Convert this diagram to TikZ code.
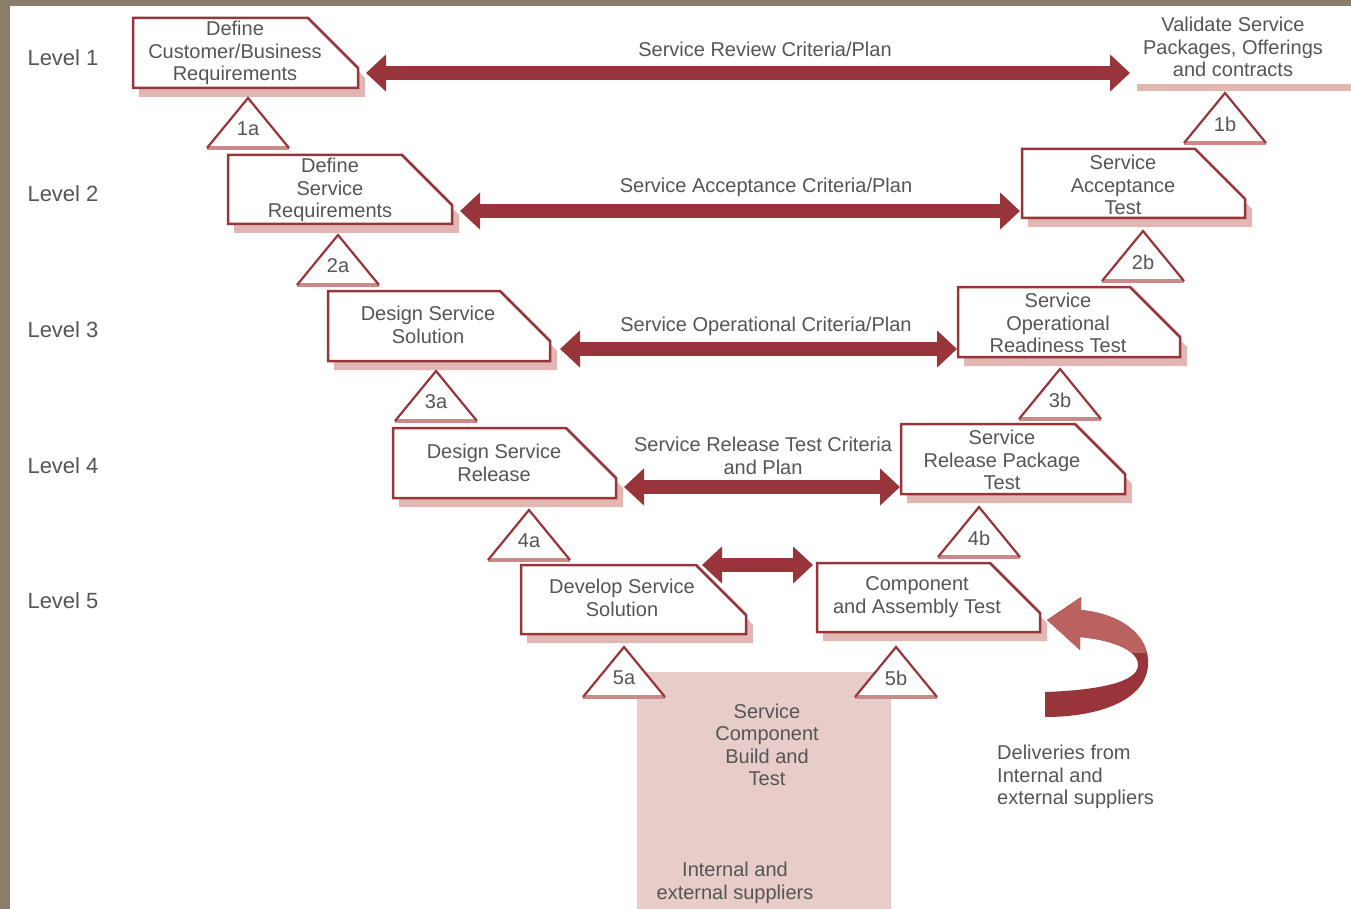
\documentclass[tikz,border=0pt]{standalone}
\usepackage{fontspec}
\setmainfont{Liberation Sans}
\usepackage{tikz}
\usetikzlibrary{calc,arrows.meta}

\definecolor{vred}{HTML}{98353B}
\definecolor{vlight}{HTML}{B9625F}
\definecolor{vpink}{HTML}{E2B6B3}
\definecolor{vbase}{HTML}{C98A89}
\definecolor{vblock}{HTML}{E8CCC9}
\definecolor{vframe}{HTML}{8B7D6A}
\definecolor{txtgray}{HTML}{555555}

\tikzset{
  lvl/.style={text=txtgray,font=\fontsize{22}{24}\selectfont,inner sep=0},
  stagetext/.style={text=txtgray,align=center,font=\fontsize{20}{22.5}\selectfont,inner sep=0},
  stagearea/.style={inner sep=0,outer sep=0},
  stageline/.style={draw=vred,line width=2.5pt,fill=white},
  stageshade/.style={fill=vpink},
  tri/.style={draw=vred,line width=2.2pt},
  tribase/.style={draw=vbase,line width=4.5pt},
  tritext/.style={text=txtgray,font=\fontsize{20}{22}\selectfont,inner sep=0},
  bigarrow/.style={draw=vred,line width=14pt,{Triangle[width=36pt,length=20pt]}-{Triangle[width=36pt,length=20pt]}}
}

% name, left, top, right, bottom
\newcommand{\vstage}[5]{%
  \fill[stageshade] ({#2+6},{#3+9}) -- ({#4-44},{#3+9}) -- ({#4+7},{#3+60}) -- ({#4+7},{#5+9}) -- ({#2+6},{#5+9}) -- cycle;
  \draw[stageline] (#2,#3) -- ({#4-50},#3) -- (#4,{#3+50}) -- (#4,#5) -- (#2,#5) -- cycle;
  \node[stagearea,minimum width={(#4-#2)*1pt},minimum height={(#5-#3)*1pt}] (#1) at ({(#2+#4)/2},{(#3+#5)/2}) {};
}

\begin{document}
\begin{tikzpicture}[x=1pt,y=-1pt]
\useasboundingbox (0,0) rectangle (1351,909);
\fill[white] (0,0) rectangle (1351,909);
\fill[vframe] (0,0) rectangle (1351,6);
\fill[vframe] (0,0) rectangle (10,909);

% component build block
\fill[vblock] (637,672) rectangle (891,909);
\node[stagetext] (build) at (767,745) {Service\\Component\\Build and\\Test};
\node[stagetext] (supp) at (735,883) {Internal and\\external suppliers};

% levels
\node[lvl] (l1) at (63,58) {Level 1};
\node[lvl] (l2) at (63,194) {Level 2};
\node[lvl] (l3) at (63,330) {Level 3};
\node[lvl] (l4) at (63,466) {Level 4};
\node[lvl] (l5) at (63,601) {Level 5};

% stages
\vstage{r1a}{133}{18}{358}{88}
\vstage{r2a}{228}{155}{452}{224}
\vstage{r2b}{1022}{149}{1245}{218}
\vstage{r3a}{328}{291}{550}{361}
\vstage{r3b}{958}{287}{1180}{357}
\vstage{r4a}{393}{428}{616}{498}
\vstage{r4b}{901}{424}{1125}{494}
\vstage{r5a}{521}{565}{746}{634}
\vstage{r5b}{817}{563}{1040}{632}

\node[stagetext] (r1a-t) at (235,53) {Define\\Customer/Business\\Requirements};
\node[stagetext] (r2a-t) at (330,190) {Define\\Service\\Requirements};
\node[stagetext] (r2b-t) at (1123,185) {Service\\Acceptance\\Test};
\node[stagetext] (r3a-t) at (428,325) {Design Service\\Solution};
\node[stagetext] (r3b-t) at (1058,323) {Service\\Operational\\Readiness Test};
\node[stagetext] (r4a-t) at (494,463) {Design Service\\Release};
\node[stagetext] (r4b-t) at (1002,460) {Service\\Release Package\\Test};
\node[stagetext] (r5a-t) at (622,598) {Develop Service\\Solution};
\node[stagetext] (r5b-t) at (917,597) {Component\\and Assembly Test};

% validate block
\node[stagearea,minimum width=214pt,minimum height=78pt] (v1b) at (1244,49) {};
\node[stagetext] (v1b-t) at (1233,47) {Validate Service\\Packages, Offerings\\and contracts};
\draw[vpink,line width=7pt] (v1b.south west) -- (v1b.south east);

% triangles
\foreach \n/\x/\y in {1a/248/148,1b/1225/143,2a/338/285,2b/1143/281,3a/436/421,3b/1060/419,4a/529/560,4b/979/557,5a/624/697,5b/896/697}{
  \fill[white] (\x-41,\y) -- (\x,\y-50) -- (\x+41,\y) -- cycle;
  \draw[tribase] (\x-41,\y) -- (\x+41,\y);
  \draw[tri] (\x-41,\y) -- (\x,\y-50) -- (\x+41,\y);
  \node[tritext] (t\n) at (\x,\y-19) {\n};
}

% criteria arrows
\draw[bigarrow,shorten <=8pt,shorten >=7pt] ([yshift=15pt]r1a.south east) -- ([yshift=15pt]r1a.south east -| v1b.west);
\draw[bigarrow,shorten <=8pt,shorten >=2pt] ([yshift=13pt]r2a.south east) -- ([yshift=13pt]r2a.south east -| r2b.west);
\draw[bigarrow,shorten <=10pt,shorten >=1pt] ([yshift=12pt]r3a.south east) -- ([yshift=12pt]r3a.south east -| r3b.west);
\draw[bigarrow,shorten <=8pt,shorten >=1pt] ([yshift=11pt]r4a.south east) -- ([yshift=11pt]r4a.south east -| r4b.west);
\draw[bigarrow,shorten >=4pt] ([xshift=-44pt]r5a.north east) -- (r5a.north east -| r5b.west);

\node[stagetext] (c1) at (765,49) {Service Review Criteria/Plan};
\node[stagetext] (c2) at (766,187) {Service Acceptance Criteria/Plan};
\node[stagetext] (c3) at (766,326) {Service Operational Criteria/Plan};
\node[stagetext] (c4) at (763,456) {Service Release Test Criteria\\and Plan};

% deliveries
\def\deliverypath{(1045,692) .. controls (1100,690) and (1138,682) .. (1138,665)
  .. controls (1138,650) and (1112,640) .. (1080,637) -- (1080,650) -- (1047,620)
  -- (1081,597) -- (1081,610) .. controls (1122,614) and (1150,636) .. (1148,665)
  .. controls (1146,700) and (1100,717) .. (1045,717) -- cycle}
\fill[vred] \deliverypath;
\begin{scope}
  \clip (1040,590) rectangle (1160,652);
  \fill[vlight] \deliverypath;
\end{scope}
\node[stagetext,align=left,anchor=north west] (deliv) at (997,745) {Deliveries from\\Internal and\\external suppliers};
\end{tikzpicture}
\end{document}
